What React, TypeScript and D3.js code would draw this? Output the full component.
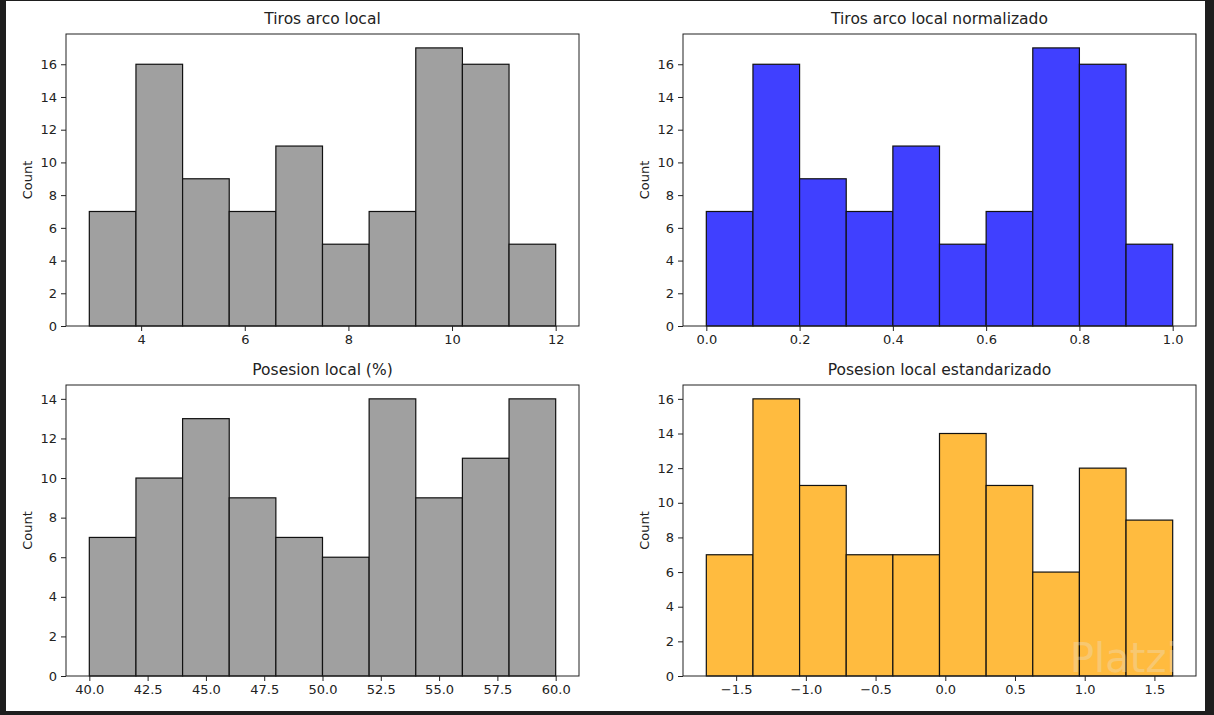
import { useEffect, useRef } from 'react';
import * as d3 from 'd3';

// conteos por bin
const tirosCounts = [7, 16, 9, 7, 11, 5, 7, 17, 16, 5];
const tirosNormCounts = [7, 16, 9, 7, 11, 5, 7, 17, 16, 5];
const posesionCounts = [7, 10, 13, 9, 7, 6, 14, 9, 11, 14];
const posesionStdCounts = [7, 16, 11, 7, 7, 14, 11, 6, 12, 9];

// rangos de los datos (min, max)
const tirosRange: [number, number] = [3, 12];
const tirosNormRange: [number, number] = [0, 1];
const posesionRange: [number, number] = [40, 60];
const posesionStdRange: [number, number] = [-1.714, 1.631];

const tirosTicks = [4, 6, 8, 10, 12];
const tirosNormTicks = [0, 0.2, 0.4, 0.6, 0.8, 1.0];
const posesionTicks = [40, 42.5, 45, 47.5, 50, 52.5, 55, 57.5, 60];
const posesionStdTicks = [-1.5, -1.0, -0.5, 0.0, 0.5, 1.0, 1.5];

const W = 1214;
const H = 715;

interface Panel {
  title: string;
  counts: number[];
  range: [number, number];
  xTicks: number[];
  xFormat: (v: number) => string;
  color: string;
  box: { left: number; top: number; right: number; bottom: number };
}

const fmt1 = (v: number) => (v < 0 ? '\u2212' : '') + Math.abs(v).toFixed(1);

const panels: Panel[] = [
  {
    title: 'Tiros arco local',
    counts: tirosCounts,
    range: tirosRange,
    xTicks: tirosTicks,
    xFormat: (v) => String(v),
    color: '#a0a0a0',
    box: { left: 66, top: 34, right: 579, bottom: 326 },
  },
  {
    title: 'Tiros arco local normalizado',
    counts: tirosNormCounts,
    range: tirosNormRange,
    xTicks: tirosNormTicks,
    xFormat: fmt1,
    color: '#4040ff',
    box: { left: 683, top: 34, right: 1196, bottom: 326 },
  },
  {
    title: 'Posesion local (%)',
    counts: posesionCounts,
    range: posesionRange,
    xTicks: posesionTicks,
    xFormat: fmt1,
    color: '#a0a0a0',
    box: { left: 66, top: 385, right: 579, bottom: 676 },
  },
  {
    title: 'Posesion local estandarizado',
    counts: posesionStdCounts,
    range: posesionStdRange,
    xTicks: posesionStdTicks,
    xFormat: fmt1,
    color: '#ffbb3f',
    box: { left: 683, top: 385, right: 1196, bottom: 676 },
  },
];

const FONT = 'DejaVu Sans, sans-serif';

export default function App() {
  const svgRef = useRef<SVGSVGElement>(null);

  useEffect(() => {
    if (!svgRef.current) return;
    const svg = d3.select(svgRef.current);
    svg.selectAll('*').remove();

    svg.append('rect').attr('width', W).attr('height', H).attr('fill', '#1e1e1e');
    svg.append('rect').attr('x', 6).attr('y', 1).attr('width', 1199).attr('height', 710).attr('fill', '#ffffff');

    panels.forEach((p) => {
      const { left, top, right, bottom } = p.box;
      const n = p.counts.length;
      const [lo, hi] = p.range;
      const binW = (hi - lo) / n;
      const pad = (hi - lo) * 0.05;
      const x = d3.scaleLinear().domain([lo - pad, hi + pad]).range([left, right]);
      const yMax = d3.max(p.counts)! * 1.05;
      const y = d3.scaleLinear().domain([0, yMax]).range([bottom, top]);

      const g = svg.append('g');

      g.selectAll('rect.bar')
        .data(p.counts)
        .enter()
        .append('rect')
        .attr('class', 'bar')
        .attr('x', (_, i) => x(lo + i * binW))
        .attr('width', (_, i) => x(lo + (i + 1) * binW) - x(lo + i * binW))
        .attr('y', (d) => y(d))
        .attr('height', (d) => y(0) - y(d))
        .attr('fill', p.color)
        .attr('stroke', '#111')
        .attr('stroke-width', 1.2);

      // ejes
      const xAxis = d3.axisBottom(x).tickValues(p.xTicks).tickFormat((d) => p.xFormat(+d)).tickSize(5).tickPadding(4);
      const yTicks = d3.range(0, yMax, 2);
      const yAxis = d3.axisLeft(y).tickValues(yTicks).tickFormat((d) => String(d)).tickSize(5).tickPadding(4);

      const gx = g.append('g').attr('transform', `translate(0,${bottom})`).call(xAxis);
      const gy = g.append('g').attr('transform', `translate(${left},0)`).call(yAxis);
      [gx, gy].forEach((a) => {
        a.select('.domain').remove();
        a.selectAll('line').attr('stroke', '#222');
        a.selectAll('text').attr('fill', '#222').style('font-family', FONT).style('font-size', '13px');
      });

      g.append('rect')
        .attr('x', left)
        .attr('y', top)
        .attr('width', right - left)
        .attr('height', bottom - top)
        .attr('fill', 'none')
        .attr('stroke', '#222')
        .attr('stroke-width', 1);

      g.append('text')
        .attr('x', (left + right) / 2)
        .attr('y', top - 10)
        .attr('text-anchor', 'middle')
        .style('font-family', FONT)
        .style('font-size', '15.5px')
        .attr('fill', '#222')
        .text(p.title);

      g.append('text')
        .attr('transform', `translate(${left - 39},${(top + bottom) / 2}) rotate(-90)`)
        .attr('text-anchor', 'middle')
        .attr('dy', '0.35em')
        .style('font-family', FONT)
        .style('font-size', '13px')
        .attr('fill', '#222')
        .text('Count');
    });

    // marca de agua (encima de las barras, sin tocar las etiquetas)
    svg.append('text')
      .attr('x', 1070)
      .attr('y', 672)
      .style('font-family', FONT)
      .style('font-size', '40px')
      .attr('fill', '#e6e6e6')
      .attr('opacity', 0.3)
      .text('Platzi');
  }, []);

  return (
    <svg
      ref={svgRef}
      width={W}
      height={H}
      style={{ position: 'fixed', left: 0, top: 0, display: 'block' }}
    />
  );
}
